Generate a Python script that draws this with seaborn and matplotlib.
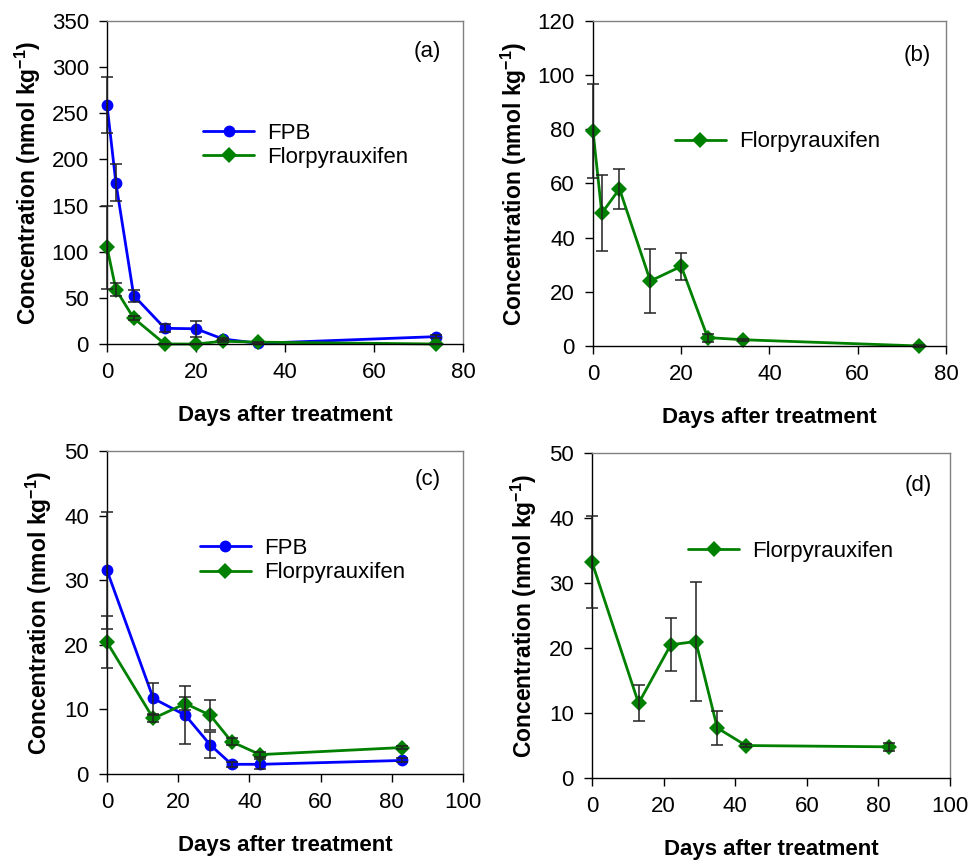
import matplotlib
matplotlib.use("Agg")
import matplotlib.pyplot as plt
import seaborn as sns
import pandas as pd
from matplotlib.lines import Line2D

# ---------------- data ----------------
days_ab = [0, 2, 6, 13, 20, 26, 34, 74]
fpb_a = [259, 174.5, 52.5, 17, 16.5, 5.5, 0.7, 8]
fpb_a_err = [30, 20, 6.5, 4.5, 8.5, 1.5, 0.5, 1.5]
flo_a = [105, 59, 28, 0, 0, 3, 2, 0]
flo_a_err = [45, 7, 2, 0.5, 0.5, 1, 0.5, 0.3]

flo_b = [79.4, 49, 58, 24, 29.4, 3.1, 2.3, 0]
flo_b_err = [17.3, 14, 7.5, 11.8, 4.9, 1.5, 0.4, 0.2]

days_cd = [0, 13, 22, 29, 35, 43, 83]
fpb_c = [31.5, 11.7, 9.1, 4.5, 1.5, 1.5, 2.1]
fpb_c_err = [9, 2.4, 4.5, 2, 0.4, 0.8, 0.3]
flo_c = [20.4, 8.6, 10.9, 9.1, 5.0, 3.0, 4.1]
flo_c_err = [4, 0.5, 1.0, 2.3, 0.5, 0.4, 0.3]

flo_d = [33.2, 11.5, 20.5, 21, 7.7, 5.0, 4.8]
flo_d_err = [7.1, 2.8, 4.1, 9.2, 2.6, 0.3, 0.6]

panel_labels = ["(a)", "(b)", "(c)", "(d)"]
xlabel = "Days after treatment"
ylabel = "Concentration (nmol kg$^{\\mathbf{-1}}$)"

colors = {"FPB": "#0000FF", "Florpyrauxifen": "#008000"}
markers = {"FPB": "o", "Florpyrauxifen": "D"}

sns.set_style("ticks")
plt.rcParams["font.family"] = ["Liberation Sans", "DejaVu Sans"]
plt.rcParams["mathtext.fontset"] = "custom"
plt.rcParams["mathtext.rm"] = "Liberation Sans"
plt.rcParams["mathtext.bf"] = "Liberation Sans:bold"
plt.rcParams["text.color"] = "black"
plt.rcParams["axes.labelcolor"] = "black"
plt.rcParams["xtick.color"] = "black"
plt.rcParams["ytick.color"] = "black"

fig = plt.figure(figsize=(9.71, 8.6), dpi=100)

axes_rects = [
    (0.1102, 0.600, 0.3666, 0.3756),
    (0.6107, 0.5977, 0.3635, 0.378),
    (0.1102, 0.100, 0.3666, 0.3756),
    (0.6097, 0.0953, 0.3687, 0.378),
]

panels = [
    dict(days=days_ab, series=[("FPB", fpb_a, fpb_a_err), ("Florpyrauxifen", flo_a, flo_a_err)],
         xlim=(0, 80), xticks=range(0, 81, 20), ylim=(0, 350), yticks=range(0, 351, 50),
         leg=(0.27, 0.615), lab=(0.90, 0.904), ylx=-0.2275),
    dict(days=days_ab, series=[("Florpyrauxifen", flo_b, flo_b_err)],
         xlim=(0, 80), xticks=range(0, 81, 20), ylim=(0, 120), yticks=range(0, 121, 20),
         leg=(0.232, 0.628), lab=(0.92, 0.895), ylx=-0.229),
    dict(days=days_cd, series=[("FPB", fpb_c, fpb_c_err), ("Florpyrauxifen", flo_c, flo_c_err)],
         xlim=(0, 100), xticks=range(0, 101, 20), ylim=(0, 50), yticks=range(0, 51, 10),
         leg=(0.261, 0.66), lab=(0.90, 0.913), ylx=-0.197),
    dict(days=days_cd, series=[("Florpyrauxifen", flo_d, flo_d_err)],
         xlim=(0, 100), xticks=range(0, 101, 20), ylim=(0, 50), yticks=range(0, 51, 10),
         leg=(0.268, 0.698), lab=(0.91, 0.90), ylx=-0.196),
]

for rect, p, plab in zip(axes_rects, panels, panel_labels):
    ax = fig.add_axes(rect)
    rows = []
    for name, vals, errs in p["series"]:
        for d, v in zip(p["days"], vals):
            rows.append({"Days": d, "Conc": v, "Compound": name})
    df = pd.DataFrame(rows)
    order = [s[0] for s in p["series"]]
    sns.lineplot(data=df, x="Days", y="Conc", hue="Compound", style="Compound",
                 hue_order=order, style_order=order,
                 palette=colors, markers=markers, dashes=False, sort=False,
                 errorbar=None, legend=False, ax=ax,
                 linewidth=2.0, markersize=8.5, markeredgewidth=0, clip_on=False, zorder=2)
    for name, vals, errs in p["series"]:
        ax.errorbar(p["days"], vals, yerr=errs, fmt="none", ecolor="#222222",
                    elinewidth=1.1, capsize=4, capthick=1.1, zorder=3, clip_on=False)
    ax.set_xlim(*p["xlim"])
    ax.set_ylim(*p["ylim"])
    ax.set_xticks(list(p["xticks"]))
    ax.set_yticks(list(p["yticks"]))
    ax.tick_params(axis="both", direction="out", length=6, width=1, pad=7,
                   labelsize=16, colors="black", top=False, right=False)
    for s in ["left", "bottom"]:
        ax.spines[s].set_color("black")
        ax.spines[s].set_linewidth(1.0)
    for s in ["top", "right"]:
        ax.spines[s].set_visible(True)
        ax.spines[s].set_color("#808080")
        ax.spines[s].set_linewidth(1.0)
    ax.set_xlabel(xlabel, fontsize=16, fontweight="bold")
    ax.set_ylabel(ylabel, fontsize=16.5, fontweight="bold")
    ax.xaxis.set_label_coords(0.5, -0.188)
    ax.yaxis.set_label_coords(p["ylx"] + 0.047, 0.5)

    handles = [Line2D([], [], color=colors[n], marker=markers[n], lw=2.0,
                      markersize=8.5, markeredgewidth=0) for n in order]
    ax.legend(handles, order, loc="center left", bbox_to_anchor=p["leg"],
              frameon=False, fontsize=16, handlelength=2.3, handletextpad=0.6,
              labelspacing=0.15, borderpad=0, borderaxespad=0)
    ax.text(p["lab"][0], p["lab"][1], plab, transform=ax.transAxes,
            ha="center", va="center", fontsize=16)

fig.savefig("out.png", dpi=100)
